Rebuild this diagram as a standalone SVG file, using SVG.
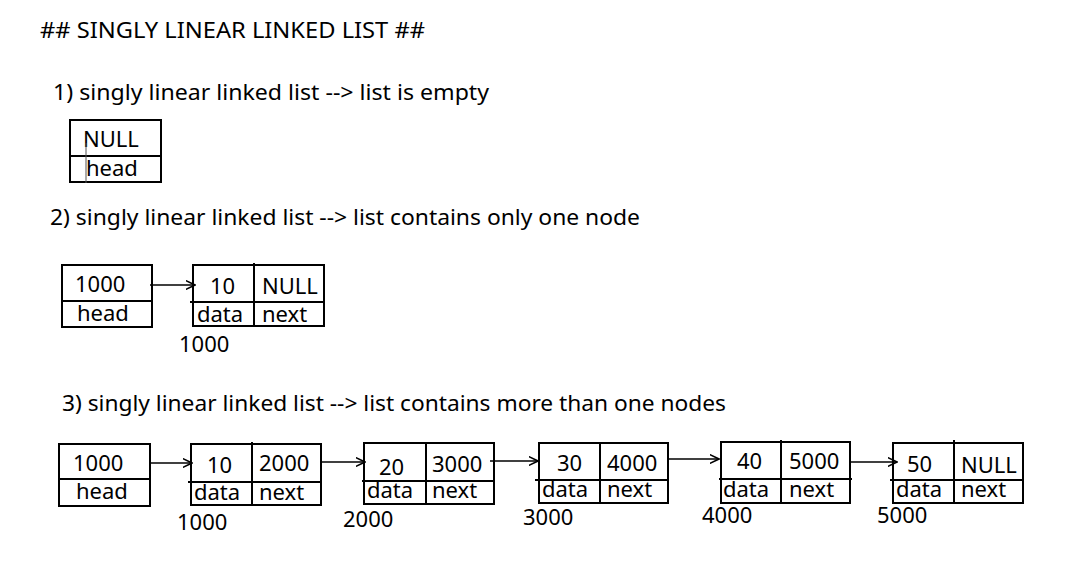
<svg xmlns="http://www.w3.org/2000/svg" width="1082" height="582" viewBox="0 0 1082 582">
<style>
text{font-family:"Noto Sans","Open Sans",sans-serif;font-size:22px;fill:#000}
.h{font-size:22px}
.b{fill:#fff;stroke:#000;stroke-width:2}
.l{stroke:#000;stroke-width:2;fill:none}
.c{stroke:#000;stroke-width:1.6;fill:none}
</style>
<defs>
<marker id="ar" viewBox="0 0 10 10" refX="9.5" refY="5" markerWidth="10" markerHeight="10" markerUnits="userSpaceOnUse" orient="auto">
<path d="M0,0.5 L9.5,5 L0,9.5" fill="none" stroke="#000" stroke-width="1.6"/>
</marker>
</defs>
<rect width="1082" height="582" fill="#fff"/>
<text x="40" y="38" textLength="385" lengthAdjust="spacingAndGlyphs">## SINGLY LINEAR LINKED LIST ##</text>
<text x="53" y="100" textLength="436" lengthAdjust="spacingAndGlyphs">1) singly linear linked list --&gt; list is empty</text>
<text x="50" y="225" textLength="590" lengthAdjust="spacingAndGlyphs">2) singly linear linked list --&gt; list contains only one node</text>
<text x="62" y="411" textLength="664" lengthAdjust="spacingAndGlyphs">3) singly linear linked list --&gt; list contains more than one nodes</text>

<g id="head1">
<rect class="b" x="70" y="120" width="91" height="62"/>
<line class="l" x1="70" y1="156" x2="161" y2="156"/>
<text x="83" y="147">NULL</text>
<text x="86" y="176">head</text>
<line x1="86" y1="143" x2="86" y2="183" stroke="#555" stroke-width="1"/>
</g>

<g id="head2">
<rect class="b" x="62" y="265" width="90" height="62"/>
<line class="l" x1="62" y1="301" x2="152" y2="301"/>
<text x="75" y="292">1000</text>
<text x="77" y="321">head</text>
</g>
<g id="node2a">
<rect class="b" x="193" y="265" width="131" height="61"/>
<line class="l" x1="190" y1="302" x2="325" y2="302"/>
<line class="l" x1="254" y1="263" x2="254" y2="326"/>
<text x="210" y="294">10</text>
<text x="262" y="294">NULL</text>
<text x="197" y="322">data</text>
<text x="262" y="322">next</text>
<text x="179" y="352">1000</text>
</g>

<g id="head3">
<rect class="b" x="59" y="444" width="91" height="62"/>
<line class="l" x1="59" y1="479" x2="150" y2="479"/>
<text x="73" y="471">1000</text>
<text x="76" y="499">head</text>
</g>
<g id="n1">
<rect class="b" x="191" y="444" width="130" height="61"/>
<line class="l" x1="188" y1="482" x2="322" y2="482"/>
<line class="l" x1="252" y1="442" x2="252" y2="505"/>
<text x="207" y="473">10</text>
<text x="259" y="471">2000</text>
<text x="194" y="500">data</text>
<text x="259" y="500">next</text>
<text x="177" y="530">1000</text>
</g>
<g id="n2">
<rect class="b" x="364" y="443" width="130" height="61"/>
<line class="l" x1="362" y1="481" x2="494" y2="481"/>
<line class="l" x1="426" y1="442" x2="426" y2="504"/>
<text x="379" y="475">20</text>
<text x="432" y="472">3000</text>
<text x="367" y="498">data</text>
<text x="432" y="498">next</text>
<text x="343" y="527">2000</text>
</g>
<g id="n3">
<rect class="b" x="539" y="443" width="129" height="60"/>
<line class="l" x1="535" y1="480" x2="669" y2="480"/>
<line class="l" x1="600" y1="442" x2="600" y2="503"/>
<text x="557" y="471">30</text>
<text x="607" y="471">4000</text>
<text x="542" y="497">data</text>
<text x="607" y="497">next</text>
<text x="523" y="525">3000</text>
</g>
<g id="n4">
<rect class="b" x="721" y="442" width="129" height="61"/>
<line class="l" x1="719" y1="479" x2="852" y2="479"/>
<line class="l" x1="781" y1="440" x2="781" y2="503"/>
<text x="737" y="469">40</text>
<text x="789" y="469">5000</text>
<text x="723" y="497">data</text>
<text x="789" y="497">next</text>
<text x="702" y="523">4000</text>
</g>
<g id="n5">
<rect class="b" x="893" y="443" width="130" height="60"/>
<line class="l" x1="890" y1="480" x2="1023" y2="480"/>
<line class="l" x1="954" y1="440" x2="954" y2="503"/>
<text x="907" y="472">50</text>
<text x="961" y="473">NULL</text>
<text x="896" y="497">data</text>
<text x="961" y="497">next</text>
<text x="877" y="523">5000</text>
</g>

<g id="connectors">
<line class="c" x1="150" y1="285" x2="195" y2="285" marker-end="url(#ar)"/>
<line class="c" x1="150" y1="463" x2="192" y2="463" marker-end="url(#ar)"/>
<line class="c" x1="320" y1="462" x2="365" y2="462" marker-end="url(#ar)"/>
<line class="c" x1="490" y1="461" x2="538" y2="461" marker-end="url(#ar)"/>
<line class="c" x1="668" y1="459" x2="719" y2="459" marker-end="url(#ar)"/>
<line class="c" x1="850" y1="462" x2="897" y2="462" marker-end="url(#ar)"/>
</g>
</svg>
